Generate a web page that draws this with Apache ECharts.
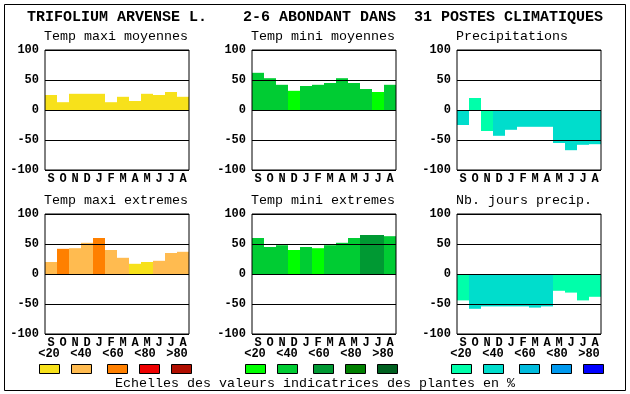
<!DOCTYPE html>
<html>
<head>
<meta charset="utf-8">
<script src="https://cdn.jsdelivr.net/npm/echarts@6/dist/echarts.min.js"></script>
<style>html,body{margin:0;padding:0;background:#fff}#c{width:630px;height:394px}</style>
</head>
<body>
<div id="c"></div>
<script>
// ---- data ----
var months = ['S','O','N','D','J','F','M','A','M','J','J','A'];
var yTicks = [-100, -50, 0, 50, 100];
var titleText = 'TRIFOLIUM ARVENSE L.    2-6 ABONDANT DANS  31 POSTES CLIMATIQUES';
var panelTitles = ['Temp maxi moyennes','Temp mini moyennes','Precipitations','Temp maxi extremes','Temp mini extremes','Nb. jours precip.'];
var scaleLabels = ['<20','<40','<60','<80','>80'];
var footText = 'Echelles des valeurs indicatrices des plantes en %';

var warmColors  = ['#f7e11b','#ffbb50','#ff8000','#ee0000','#b00e00'];
var greenColors = ['#00ff00','#00cc33','#009933','#008000','#006020'];
var blueColors  = ['#00ffaa','#00ddcc','#00bbdd','#0099ee','#0000ff'];

var tmaxMoy   = [25,13,27,27,27,13,22,15,27,25,30,22];
var tmaxMoyCl = [0,0,0,0,0,0,0,0,0,0,0,0];
var tminMoy   = [62,53,42,32,40,42,45,53,45,35,30,42];
var tminMoyCl = [1,1,1,0,1,1,1,1,1,1,0,1];
var precip    = [-25,20,-35,-43,-33,-28,-28,-28,-55,-67,-58,-57];
var precipCl  = [1,0,0,1,1,1,1,1,1,1,1,1];
var tmaxExt   = [20,42,43,52,60,40,27,17,20,22,35,37];
var tmaxExtCl = [1,2,1,1,2,1,1,0,0,1,1,1];
var tminExt   = [60,45,48,40,45,43,48,52,60,65,65,63];
var tminExtCl = [1,1,1,0,1,0,1,1,1,2,2,1];
var nbJours   = [-44,-58,-54,-54,-54,-54,-56,-54,-28,-31,-44,-38];
var nbJoursCl = [0,1,1,1,1,1,1,1,0,0,0,0];

var panels = [
  {vals: tmaxMoy, cls: tmaxMoyCl, pal: warmColors},
  {vals: tminMoy, cls: tminMoyCl, pal: greenColors},
  {vals: precip,  cls: precipCl,  pal: blueColors},
  {vals: tmaxExt, cls: tmaxExtCl, pal: warmColors},
  {vals: tminExt, cls: tminExtCl, pal: greenColors},
  {vals: nbJours, cls: nbJoursCl, pal: blueColors}
];

// ---- layout ----
var lefts = [45, 252, 457];
var tops = [50, 214];
var W = 144, H = 120;
var MONO = '"Liberation Mono", "DejaVu Sans Mono", monospace';

var grids = [], xAxes = [], yAxes = [], series = [], graphics = [];
panels.forEach(function (p, i) {
  var col = i % 3, row = Math.floor(i / 3);
  grids.push({left: lefts[col], top: tops[row], width: W, height: H, show: true,
    borderColor: '#000', borderWidth: 1, backgroundColor: 'transparent', z: 5, containLabel: false});
  xAxes.push({type: 'category', gridIndex: i, data: months,
    axisLine: {show: false}, axisTick: {show: false}, splitLine: {show: false},
    axisLabel: {color: '#000', fontFamily: MONO, fontWeight: 'bold', fontSize: 12, margin: 3, interval: 0}});
  yAxes.push({type: 'value', gridIndex: i, min: yTicks[0], max: yTicks[yTicks.length - 1], interval: 50, z: 4,
    axisLine: {show: false}, axisTick: {show: false},
    splitLine: {show: true, lineStyle: {color: '#000', width: 1}},
    axisLabel: {color: '#000', fontFamily: MONO, fontWeight: 'bold', fontSize: 12, margin: 6}});
  series.push({type: 'bar', xAxisIndex: i, yAxisIndex: i, barCategoryGap: 0, z: 2,
    animation: false,
    data: p.vals.map(function (v, k) { return {value: v, itemStyle: {color: p.pal[p.cls[k]]}}; })});
  graphics.push({type: 'text', left: lefts[col] - 1, top: tops[row] - 20,
    style: {text: panelTitles[i], font: '13.33px ' + MONO, fill: '#000'}});
});

// outer frame
graphics.push({type: 'rect', shape: {x: 4.5, y: 4.5, width: 621, height: 386},
  style: {fill: 'none', stroke: '#000', lineWidth: 1}, z: 10});
// main title
graphics.push({type: 'text', left: 27, top: 10,
  style: {text: titleText, font: 'bold 15px ' + MONO, fill: '#000'}});
// scales legend
var palettes = [warmColors, greenColors, blueColors];
var labelCenters = [[49,81,113,145,177],[255,287,319,351,383],[461,493,525,557,589]];
var boxLefts = [[39,71,107,139,171],[245,277,313,345,377],[451,483,519,551,583]];
palettes.forEach(function (pal, g) {
  pal.forEach(function (c, k) {
    graphics.push({type: 'text', x: labelCenters[g][k], y: 354,
      style: {text: scaleLabels[k], font: 'bold 12px ' + MONO, fill: '#000', textAlign: 'center', textVerticalAlign: 'middle'}});
    graphics.push({type: 'rect', shape: {x: boxLefts[g][k] + 0.5, y: 364.5, width: 20, height: 9},
      style: {fill: c, stroke: '#000', lineWidth: 1}});
  });
});
graphics.push({type: 'text', x: 315, y: 383,
  style: {text: footText, font: '13.33px ' + MONO, fill: '#000', textAlign: 'center', textVerticalAlign: 'middle'}});

var chart = echarts.init(document.getElementById('c'), null, {renderer: 'canvas'});
chart.setOption({
  animation: false,
  backgroundColor: '#fff',
  grid: grids, xAxis: xAxes, yAxis: yAxes, series: series,
  graphic: graphics
});
</script>
</body>
</html>
